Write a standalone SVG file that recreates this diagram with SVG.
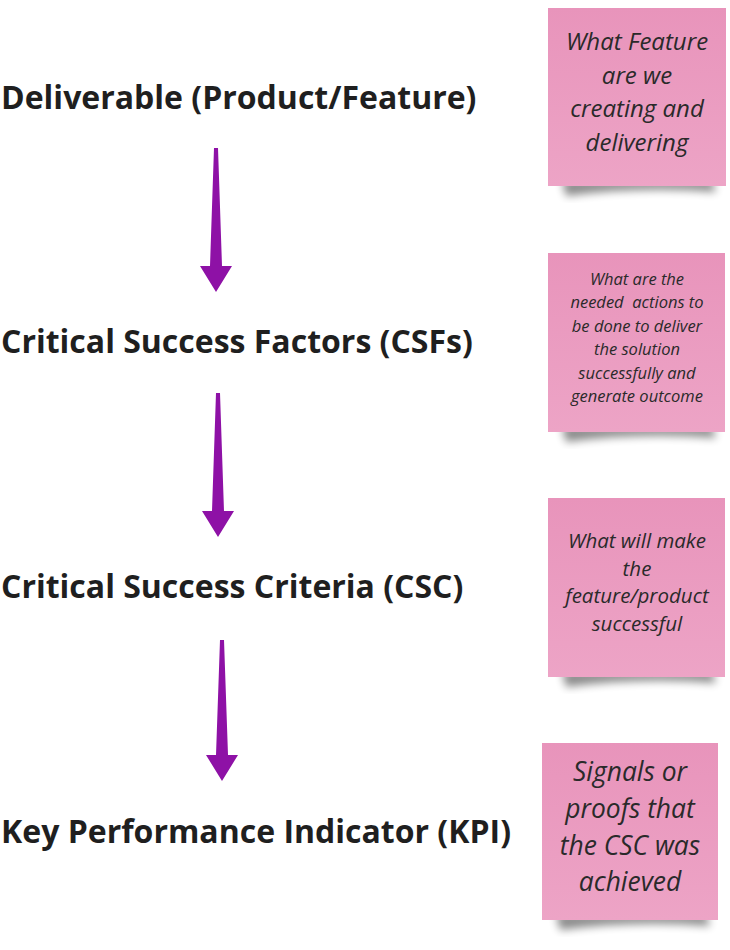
<svg xmlns="http://www.w3.org/2000/svg" width="730" height="950" viewBox="0 0 730 950">
<defs>
<linearGradient id="pink" x1="0" y1="0" x2="0" y2="1">
<stop offset="0" stop-color="#e894bb"/>
<stop offset="1" stop-color="#eda4c6"/>
</linearGradient>
<filter id="sh" x="-20%" y="-20%" width="140%" height="160%">
<feGaussianBlur stdDeviation="4"/>
</filter>
<style>
.h{font-family:"Open Sans","Liberation Sans",sans-serif;font-weight:700;font-size:32px;fill:#1f1f1f}
.n{font-family:"Open Sans","Liberation Sans",sans-serif;font-style:italic;fill:#2a2a2a;text-anchor:middle;white-space:pre}
.note{fill:url(#pink)}
.shadow{fill:#000;opacity:0.45}
.arr{fill:#8e11a6}
</style>
</defs>
<g id="connectors">
<path class="arr" d="M214,148 L218,148 L222,266 L232,266 L216,292 L200,266 L210,266 Z"/>
<path class="arr" d="M216,393 L220,393 L224,511 L234,511 L218,537 L202,511 L212,511 Z"/>
<path class="arr" d="M220,640 L224,640 L228,755 L238,755 L222,781 L206,755 L216,755 Z"/>
</g>
<g id="h1"><text class="h" x="1" y="109">Deliverable (Product/Feature)</text></g>
<g id="h2"><text class="h" x="1" y="353">Critical Success Factors (CSFs)</text></g>
<g id="h3"><text class="h" x="1" y="598">Critical Success Criteria (CSC)</text></g>
<g id="h4"><text class="h" x="1" y="843">Key Performance Indicator (KPI)</text></g>
<g id="note1">
<path class="shadow" filter="url(#sh)" d="M562,180 L712,180 L716,192 Q640,186 566,196 Z"/>
<rect class="note" x="548" y="8" width="178" height="178"/>
<text class="n" font-size="24" x="637" y="50">What Feature</text>
<text class="n" font-size="24" x="637" y="84">are we</text>
<text class="n" font-size="24" x="637" y="117">creating and</text>
<text class="n" font-size="24" x="637" y="151">delivering</text>
</g>
<g id="note2">
<path class="shadow" filter="url(#sh)" d="M562,426 L712,426 L716,438 Q640,432 566,442 Z"/>
<rect class="note" x="548" y="253" width="177" height="179"/>
<text class="n" font-size="16.5" x="637" y="285">What are the</text>
<text class="n" font-size="16.5" x="637" y="308">needed  actions to</text>
<text class="n" font-size="16.5" x="637" y="332">be done to deliver</text>
<text class="n" font-size="16.5" x="637" y="355">the solution</text>
<text class="n" font-size="16.5" x="637" y="379">successfully and</text>
<text class="n" font-size="16.5" x="637" y="402">generate outcome</text>
</g>
<g id="note3">
<path class="shadow" filter="url(#sh)" d="M562,671 L712,671 L716,683 Q640,677 566,687 Z"/>
<rect class="note" x="548" y="498" width="177" height="179"/>
<text class="n" font-size="20.5" x="637" y="548">What will make</text>
<text class="n" font-size="20.5" x="637" y="576">the</text>
<text class="n" font-size="20.5" x="637" y="603">feature/product</text>
<text class="n" font-size="20.5" x="637" y="631">successful</text>
</g>
<g id="note4">
<path class="shadow" filter="url(#sh)" d="M556,914 L706,914 L710,926 Q634,920 560,930 Z"/>
<rect class="note" x="542" y="743" width="176" height="177"/>
<text class="n" font-size="26.4" x="630" y="781">Signals or</text>
<text class="n" font-size="26.4" x="630" y="818">proofs that</text>
<text class="n" font-size="26.4" x="630" y="855">the CSC was</text>
<text class="n" font-size="26.4" x="630" y="891">achieved</text>
</g>
</svg>
